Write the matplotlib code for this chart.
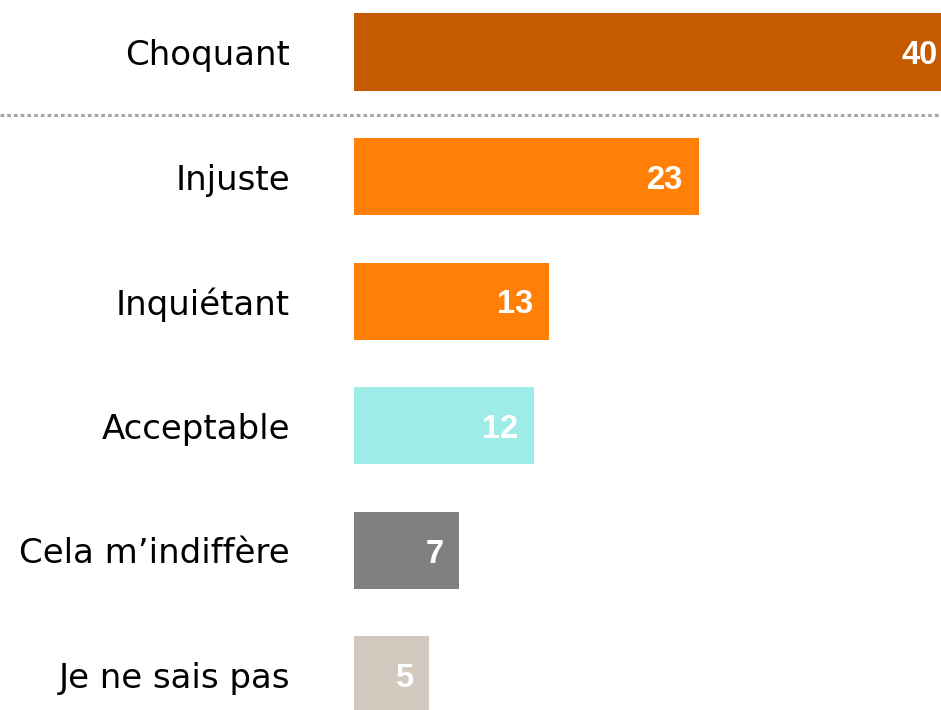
import matplotlib.pyplot as plt
from matplotlib.lines import Line2D

categories = ['Choquant', 'Injuste', 'Inquiétant', 'Acceptable', 'Cela m\u2019indiffère', 'Je ne sais pas']
values = [40, 23, 13, 12, 7, 5]
colors = ['#C55A00', '#FF7F07', '#FF7F07', '#9EECE7', '#808080', '#D3C8BD']

fig = plt.figure(figsize=(9.41, 7.10), dpi=100)
ax = fig.add_axes([354/941, 0, 1 - 354/941, 1])

pos = list(range(len(values)))
ax.barh(pos, values, height=0.618, color=colors)
ax.set_xlim(0, 587/15)
ax.set_ylim((710 - 52)/124.6, -52/124.6)

for p, v in zip(pos, values):
    ax.text(v - 1.05, p + 0.03, str(v), ha='right', va='center', color='white',
            fontsize=23.5, fontweight='bold', family='Liberation Sans')

ax.set_yticks(pos)
ax.set_yticklabels(categories, fontsize=24.5, family='DejaVu Sans')
ax.tick_params(axis='y', length=0, pad=46)
ax.set_xticks([])
for s in ax.spines.values():
    s.set_visible(False)

# separator below the first bar, across the whole figure
y_sep = 1 - 115/710
fig.add_artist(Line2D([0, 1], [y_sep, y_sep], transform=fig.transFigure,
                      color='#A6A6A6', lw=2.2, dashes=(1.2, 1.0)))

fig.savefig('out.png', dpi=100)
